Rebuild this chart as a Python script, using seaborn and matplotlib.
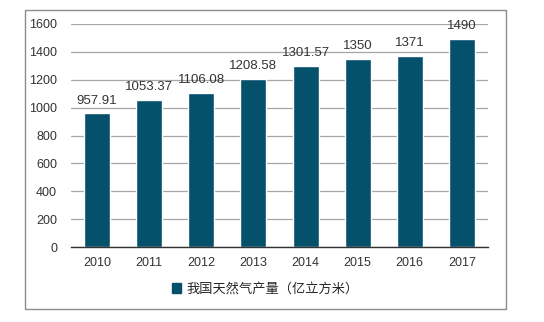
import matplotlib
matplotlib.use("Agg")
import matplotlib.pyplot as plt
import matplotlib.patches as mpatches
import seaborn as sns
import pandas as pd

years = ["2010", "2011", "2012", "2013", "2014", "2015", "2016", "2017"]
values = [957.91, 1053.37, 1106.08, 1208.58, 1301.57, 1350, 1371, 1490]
labels = ["957.91", "1053.37", "1106.08", "1208.58", "1301.57", "1350", "1371", "1490"]
series_name = "我国天然气产量（亿立方米）"

sns.set_theme(style="white")
plt.rcParams['font.family'] = ['Liberation Sans', 'Noto Sans CJK SC', 'DejaVu Sans']

df = pd.DataFrame({"year": years, "value": values})
color = "#05506a"

fig = plt.figure(figsize=(5.44, 3.22), dpi=100)
ax = fig.add_axes([71/544, 1 - 247/322, (488-71)/544, (247-24)/322])

sns.barplot(data=df, x="year", y="value", color=color, width=0.5, ax=ax, saturation=1)

ax.set_ylim(0, 1600)
ax.set_yticks(range(0, 1601, 200))
ax.set_xlim(-0.5, len(years) - 0.5)
ax.set_xlabel("")
ax.set_ylabel("")
ax.yaxis.grid(True, color="#a6a6a6", linewidth=0.9)
ax.set_axisbelow(True)
for s in ["top", "right", "left"]:
    ax.spines[s].set_visible(False)
ax.spines["bottom"].set_color("#333333")
ax.spines["bottom"].set_linewidth(1.0)
ax.tick_params(axis="both", length=0, labelsize=9, colors="#333333")
ax.tick_params(axis="y", pad=10)
ax.tick_params(axis="x", pad=7)

for i, (v, lab) in enumerate(zip(values, labels)):
    ax.text(i, v + 50, lab, ha="center", va="bottom", fontsize=9.5, color="#333333")

# outer border
border = mpatches.Rectangle((25/544, 1 - 309/322), (506-25)/544, (309-10)/322,
                            transform=fig.transFigure, fill=False,
                            edgecolor="#8c8c8c", linewidth=1.0)
fig.patches.append(border)

handle = mpatches.Patch(color=color, label=series_name)
fig.legend(handles=[handle], loc="center", bbox_to_anchor=(265/544, 1 - 289/322),
           frameon=False, handlelength=0.7, handleheight=0.7,
           handletextpad=0.4, prop={'family': ['Noto Sans CJK SC', 'DejaVu Sans'], 'size': 9.5})

fig.savefig("out.png", dpi=100)
